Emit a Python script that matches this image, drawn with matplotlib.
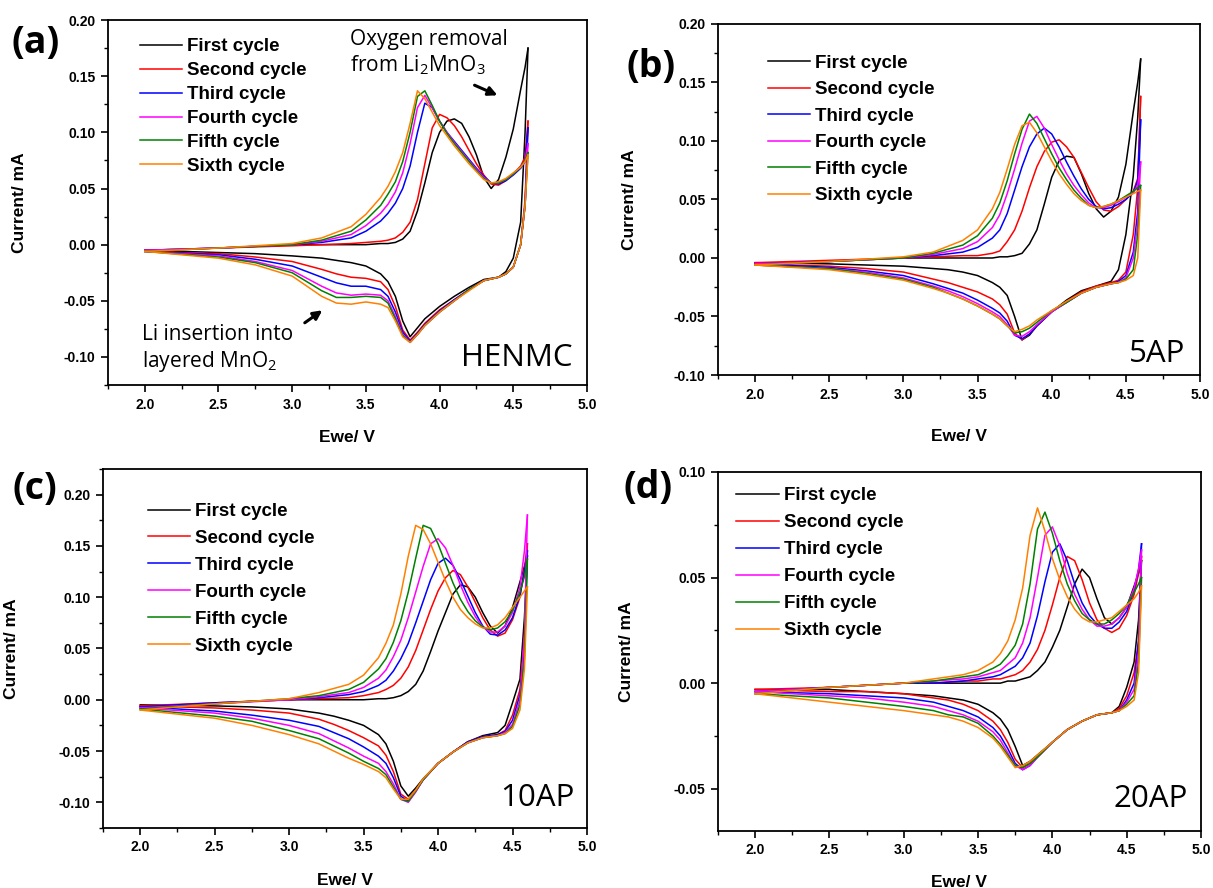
import numpy as np
import matplotlib
matplotlib.use("Agg")
import matplotlib.pyplot as plt
from matplotlib.ticker import MultipleLocator, FormatStrFormatter

plt.rcParams["font.family"] = ["Liberation Sans", "DejaVu Sans"]
plt.rcParams["mathtext.fontset"] = "custom"
plt.rcParams["mathtext.rm"] = "Open Sans"

nan = np.nan

# -----------------------------
# Data
# -----------------------------

labels = ["First cycle", "Second cycle", "Third cycle",
          "Fourth cycle", "Fifth cycle", "Sixth cycle"]
colors = ["#000000", "#ff0000", "#0000ff", "#ff00ff", "#008000", "#ff8000"]

# anodic (forward) scan voltages, V
v_up = [2.0, 2.5, 3.0, 3.2, 3.4, 3.5, 3.6, 3.65, 3.7, 3.75, 3.8, 3.85, 3.9, 3.95,
        4.0, 4.05, 4.1, 4.15, 4.2, 4.25, 4.3, 4.35, 4.4, 4.45, 4.5, 4.55, 4.58, 4.6]
# cathodic (reverse) scan voltages, V
v_dn = [4.6, 4.58, 4.55, 4.5, 4.45, 4.4, 4.3, 4.2, 4.1, 4.0, 3.9, 3.85, 3.8, 3.75,
        3.7, 3.65, 3.6, 3.5, 3.4, 3.3, 3.2, 3.0, 2.75, 2.5, 2.0]

# (a) HENMC, current in mA
henmc_up = [
    [nan, nan, 0.000, 0.000, 0.000, 0.000, 0.001, 0.001, 0.002, 0.005, 0.012, 0.030, 0.055, 0.082,
     0.100, 0.110, 0.112, 0.108, 0.096, 0.080, 0.060, 0.050, 0.058, 0.078, 0.103, 0.138, 0.158, 0.175],
    [-0.005, -0.003, -0.001, 0.000, 0.001, 0.002, 0.003, 0.004, 0.006, 0.011, 0.020, 0.040, 0.072, 0.104,
     0.116, 0.113, 0.106, 0.096, 0.084, 0.072, 0.062, 0.054, 0.053, 0.057, 0.063, 0.070, 0.078, 0.110],
    [-0.005, -0.003, 0.000, 0.002, 0.006, 0.012, 0.021, 0.028, 0.037, 0.050, 0.070, 0.100, 0.126, 0.122,
     0.110, 0.100, 0.092, 0.084, 0.076, 0.068, 0.061, 0.055, 0.054, 0.057, 0.062, 0.068, 0.074, 0.104],
    [-0.005, -0.003, 0.000, 0.003, 0.009, 0.017, 0.028, 0.036, 0.047, 0.064, 0.090, 0.122, 0.133, 0.122,
     0.110, 0.100, 0.091, 0.083, 0.075, 0.067, 0.060, 0.055, 0.055, 0.058, 0.063, 0.069, 0.075, 0.090],
    [-0.006, -0.003, 0.000, 0.004, 0.012, 0.022, 0.035, 0.045, 0.056, 0.074, 0.100, 0.132, 0.137, 0.124,
     0.110, 0.099, 0.090, 0.082, 0.074, 0.066, 0.059, 0.055, 0.055, 0.058, 0.063, 0.069, 0.075, 0.082],
    [-0.006, -0.003, 0.001, 0.006, 0.016, 0.027, 0.042, 0.052, 0.065, 0.082, 0.108, 0.137, 0.130, 0.118,
     0.106, 0.097, 0.088, 0.080, 0.072, 0.065, 0.058, 0.055, 0.056, 0.059, 0.064, 0.069, 0.074, 0.080],
]
henmc_dn = [
    [0.175, 0.100, 0.020, -0.012, -0.024, -0.029, -0.031, -0.038, -0.046, -0.055, -0.066, -0.074, -0.082,
     -0.068, -0.046, -0.033, -0.026, -0.019, -0.016, -0.014, -0.012, -0.010, -0.008, -0.007, -0.005],
    [0.110, 0.040, 0.000, -0.020, -0.026, -0.029, -0.032, -0.040, -0.049, -0.058, -0.070, -0.078, -0.085,
     -0.076, -0.055, -0.040, -0.033, -0.030, -0.029, -0.026, -0.022, -0.015, -0.011, -0.008, -0.006],
    [0.104, 0.035, 0.000, -0.020, -0.026, -0.029, -0.032, -0.040, -0.049, -0.059, -0.071, -0.079, -0.086,
     -0.078, -0.060, -0.046, -0.040, -0.037, -0.037, -0.034, -0.029, -0.019, -0.013, -0.009, -0.006],
    [0.090, 0.035, 0.000, -0.020, -0.026, -0.029, -0.032, -0.040, -0.050, -0.060, -0.072, -0.080, -0.087,
     -0.080, -0.064, -0.050, -0.045, -0.044, -0.045, -0.043, -0.037, -0.023, -0.015, -0.010, -0.006],
    [0.082, 0.035, 0.000, -0.020, -0.026, -0.029, -0.032, -0.040, -0.050, -0.060, -0.072, -0.080, -0.087,
     -0.081, -0.066, -0.052, -0.047, -0.046, -0.047, -0.047, -0.041, -0.025, -0.016, -0.011, -0.006],
    [0.080, 0.035, 0.000, -0.020, -0.026, -0.029, -0.032, -0.041, -0.050, -0.060, -0.072, -0.080, -0.087,
     -0.082, -0.068, -0.056, -0.053, -0.051, -0.053, -0.052, -0.046, -0.028, -0.018, -0.012, -0.006],
]

# (b) 5AP
ap5_up = [
    [nan, nan, 0.000, 0.000, 0.000, 0.000, 0.000, 0.001, 0.001, 0.002, 0.004, 0.012, 0.024, 0.046,
     0.069, 0.083, 0.087, 0.086, 0.072, 0.055, 0.042, 0.035, 0.040, 0.052, 0.080, 0.125, 0.150, 0.170],
    [-0.004, -0.002, 0.000, 0.001, 0.002, 0.002, 0.004, 0.006, 0.014, 0.024, 0.040, 0.060, 0.078, 0.091,
     0.099, 0.101, 0.095, 0.086, 0.073, 0.060, 0.048, 0.041, 0.040, 0.044, 0.050, 0.057, 0.068, 0.138],
    [-0.005, -0.003, 0.000, 0.002, 0.005, 0.009, 0.017, 0.024, 0.038, 0.058, 0.078, 0.095, 0.106, 0.111,
     0.106, 0.095, 0.082, 0.070, 0.059, 0.050, 0.044, 0.042, 0.043, 0.046, 0.050, 0.056, 0.066, 0.118],
    [-0.005, -0.003, 0.000, 0.003, 0.008, 0.014, 0.026, 0.037, 0.055, 0.076, 0.098, 0.117, 0.121, 0.111,
     0.097, 0.084, 0.072, 0.062, 0.054, 0.047, 0.043, 0.043, 0.045, 0.048, 0.052, 0.056, 0.062, 0.082],
    [-0.006, -0.003, 0.000, 0.004, 0.011, 0.019, 0.034, 0.047, 0.066, 0.089, 0.110, 0.123, 0.115, 0.102,
     0.089, 0.077, 0.067, 0.058, 0.051, 0.045, 0.043, 0.044, 0.046, 0.049, 0.053, 0.057, 0.060, 0.062],
    [-0.006, -0.003, 0.001, 0.005, 0.015, 0.024, 0.042, 0.056, 0.076, 0.097, 0.113, 0.116, 0.107, 0.095,
     0.083, 0.072, 0.063, 0.055, 0.049, 0.045, 0.043, 0.044, 0.046, 0.049, 0.052, 0.055, 0.057, 0.058],
]
ap5_dn = [
    [0.170, 0.120, 0.070, 0.020, -0.010, -0.020, -0.024, -0.028, -0.036, -0.046, -0.058, -0.066, -0.070,
     -0.050, -0.032, -0.025, -0.021, -0.015, -0.012, -0.010, -0.009, -0.007, -0.006, -0.005, -0.004],
    [0.138, 0.060, 0.020, -0.012, -0.019, -0.021, -0.024, -0.029, -0.037, -0.046, -0.058, -0.065, -0.070,
     -0.064, -0.048, -0.040, -0.035, -0.029, -0.025, -0.021, -0.018, -0.012, -0.009, -0.007, -0.005],
    [0.118, 0.040, 0.005, -0.015, -0.020, -0.022, -0.025, -0.030, -0.038, -0.046, -0.058, -0.065, -0.069,
     -0.066, -0.054, -0.047, -0.043, -0.036, -0.030, -0.026, -0.022, -0.015, -0.011, -0.008, -0.005],
    [0.082, 0.030, 0.000, -0.017, -0.021, -0.022, -0.025, -0.030, -0.038, -0.046, -0.057, -0.063, -0.067,
     -0.066, -0.057, -0.050, -0.046, -0.039, -0.033, -0.028, -0.024, -0.017, -0.012, -0.009, -0.006],
    [0.062, 0.020, -0.010, -0.018, -0.021, -0.022, -0.025, -0.030, -0.038, -0.045, -0.055, -0.060, -0.063,
     -0.064, -0.058, -0.052, -0.048, -0.041, -0.035, -0.030, -0.025, -0.018, -0.013, -0.009, -0.006],
    [0.058, 0.000, -0.015, -0.019, -0.021, -0.022, -0.025, -0.030, -0.037, -0.045, -0.053, -0.058, -0.061,
     -0.063, -0.058, -0.052, -0.048, -0.041, -0.035, -0.030, -0.026, -0.019, -0.014, -0.010, -0.006],
]

# (c) 10AP
ap10_up = [
    [nan, nan, 0.000, 0.000, 0.000, 0.000, 0.001, 0.001, 0.002, 0.004, 0.008, 0.015, 0.028, 0.047,
     0.067, 0.085, 0.103, 0.112, 0.110, 0.100, 0.085, 0.072, 0.065, 0.072, 0.090, 0.115, 0.130, 0.140],
    [-0.006, -0.003, 0.000, 0.001, 0.002, 0.004, 0.007, 0.010, 0.014, 0.021, 0.032, 0.048, 0.068, 0.088,
     0.106, 0.119, 0.126, 0.122, 0.110, 0.095, 0.080, 0.068, 0.062, 0.065, 0.078, 0.100, 0.128, 0.152],
    [-0.007, -0.003, 0.000, 0.002, 0.005, 0.008, 0.014, 0.019, 0.028, 0.040, 0.055, 0.075, 0.096, 0.117,
     0.133, 0.138, 0.131, 0.117, 0.101, 0.085, 0.072, 0.064, 0.063, 0.068, 0.080, 0.102, 0.125, 0.145],
    [-0.008, -0.004, 0.000, 0.003, 0.007, 0.012, 0.021, 0.029, 0.042, 0.058, 0.080, 0.105, 0.130, 0.152,
     0.157, 0.148, 0.131, 0.112, 0.095, 0.081, 0.071, 0.066, 0.066, 0.072, 0.085, 0.110, 0.145, 0.180],
    [-0.009, -0.004, 0.001, 0.004, 0.010, 0.017, 0.030, 0.040, 0.056, 0.077, 0.105, 0.138, 0.170, 0.167,
     0.152, 0.133, 0.114, 0.098, 0.086, 0.077, 0.071, 0.068, 0.070, 0.076, 0.087, 0.105, 0.120, 0.137],
    [-0.010, -0.004, 0.001, 0.007, 0.015, 0.024, 0.041, 0.055, 0.073, 0.103, 0.140, 0.170, 0.166, 0.152,
     0.134, 0.116, 0.100, 0.088, 0.080, 0.074, 0.070, 0.070, 0.073, 0.080, 0.090, 0.100, 0.106, 0.110],
]
ap10_dn = [
    [0.140, 0.080, 0.020, -0.003, -0.025, -0.032, -0.035, -0.041, -0.051, -0.062, -0.077, -0.086, -0.094,
     -0.084, -0.060, -0.043, -0.034, -0.025, -0.020, -0.016, -0.013, -0.009, -0.007, -0.006, -0.005],
    [0.152, 0.060, 0.010, -0.015, -0.030, -0.034, -0.036, -0.041, -0.051, -0.062, -0.078, -0.088, -0.097,
     -0.092, -0.070, -0.054, -0.045, -0.037, -0.030, -0.024, -0.019, -0.013, -0.010, -0.008, -0.006],
    [0.145, 0.050, 0.005, -0.020, -0.031, -0.034, -0.036, -0.041, -0.051, -0.062, -0.078, -0.089, -0.099,
     -0.094, -0.076, -0.062, -0.055, -0.046, -0.038, -0.032, -0.026, -0.020, -0.015, -0.011, -0.007],
    [0.180, 0.060, 0.000, -0.024, -0.032, -0.035, -0.037, -0.042, -0.051, -0.062, -0.078, -0.090, -0.100,
     -0.097, -0.082, -0.070, -0.062, -0.055, -0.047, -0.040, -0.033, -0.025, -0.018, -0.013, -0.008],
    [0.137, 0.040, -0.005, -0.026, -0.033, -0.035, -0.037, -0.042, -0.051, -0.062, -0.078, -0.089, -0.099,
     -0.097, -0.085, -0.073, -0.067, -0.060, -0.052, -0.045, -0.038, -0.030, -0.021, -0.016, -0.009],
    [0.110, 0.030, -0.010, -0.028, -0.033, -0.035, -0.037, -0.042, -0.051, -0.062, -0.077, -0.088, -0.097,
     -0.097, -0.087, -0.076, -0.070, -0.063, -0.057, -0.050, -0.043, -0.034, -0.025, -0.018, -0.010],
]

# (d) 20AP
ap20_up = [
    [nan, nan, 0.000, 0.000, 0.000, 0.000, 0.000, 0.000, 0.001, 0.001, 0.002, 0.003, 0.006, 0.010,
     0.017, 0.025, 0.036, 0.047, 0.054, 0.050, 0.040, 0.031, 0.028, 0.031, 0.036, 0.046, 0.052, 0.058],
    [-0.003, -0.002, 0.000, 0.000, 0.001, 0.001, 0.002, 0.002, 0.003, 0.004, 0.006, 0.010, 0.016, 0.025,
     0.037, 0.050, 0.060, 0.058, 0.049, 0.038, 0.030, 0.026, 0.024, 0.026, 0.032, 0.042, 0.052, 0.060],
    [-0.004, -0.002, 0.000, 0.000, 0.001, 0.002, 0.003, 0.004, 0.006, 0.008, 0.012, 0.019, 0.032, 0.048,
     0.062, 0.066, 0.058, 0.047, 0.038, 0.032, 0.028, 0.026, 0.026, 0.029, 0.034, 0.044, 0.054, 0.066],
    [-0.004, -0.002, 0.000, 0.001, 0.002, 0.003, 0.005, 0.006, 0.009, 0.012, 0.019, 0.031, 0.050, 0.070,
     0.074, 0.065, 0.052, 0.042, 0.035, 0.030, 0.027, 0.027, 0.028, 0.031, 0.036, 0.045, 0.054, 0.063],
    [-0.005, -0.002, 0.000, 0.001, 0.003, 0.004, 0.007, 0.009, 0.013, 0.018, 0.028, 0.047, 0.073, 0.081,
     0.071, 0.058, 0.047, 0.039, 0.033, 0.030, 0.028, 0.028, 0.030, 0.033, 0.037, 0.043, 0.047, 0.050],
    [-0.005, -0.002, 0.000, 0.002, 0.004, 0.006, 0.010, 0.014, 0.020, 0.030, 0.045, 0.070, 0.083, 0.072,
     0.059, 0.049, 0.041, 0.035, 0.031, 0.029, 0.029, 0.030, 0.031, 0.034, 0.037, 0.040, 0.043, 0.046],
]
ap20_dn = [
    [0.058, 0.030, 0.010, -0.002, -0.011, -0.014, -0.015, -0.018, -0.022, -0.028, -0.034, -0.037, -0.039,
     -0.030, -0.022, -0.017, -0.014, -0.010, -0.008, -0.007, -0.006, -0.005, -0.004, -0.003, -0.003],
    [0.060, 0.020, 0.005, -0.006, -0.012, -0.014, -0.015, -0.018, -0.022, -0.028, -0.035, -0.038, -0.040,
     -0.036, -0.028, -0.022, -0.018, -0.013, -0.010, -0.008, -0.007, -0.005, -0.004, -0.004, -0.003],
    [0.066, 0.020, 0.000, -0.008, -0.013, -0.014, -0.015, -0.018, -0.022, -0.028, -0.035, -0.039, -0.041,
     -0.038, -0.031, -0.025, -0.021, -0.016, -0.013, -0.011, -0.009, -0.007, -0.006, -0.005, -0.004],
    [0.063, 0.015, -0.003, -0.009, -0.013, -0.014, -0.015, -0.018, -0.022, -0.028, -0.035, -0.039, -0.041,
     -0.039, -0.033, -0.027, -0.023, -0.018, -0.015, -0.013, -0.011, -0.009, -0.007, -0.006, -0.004],
    [0.050, 0.010, -0.006, -0.010, -0.013, -0.014, -0.015, -0.018, -0.022, -0.028, -0.035, -0.038, -0.040,
     -0.039, -0.034, -0.029, -0.025, -0.019, -0.016, -0.015, -0.013, -0.011, -0.009, -0.007, -0.005],
    [0.046, 0.005, -0.008, -0.011, -0.013, -0.014, -0.015, -0.018, -0.022, -0.028, -0.034, -0.037, -0.039,
     -0.040, -0.035, -0.030, -0.026, -0.021, -0.018, -0.016, -0.015, -0.013, -0.011, -0.009, -0.005],
]

# -----------------------------
# Figure layout
# -----------------------------

fig = plt.figure(figsize=(12.13, 8.88), dpi=100)

panels = [
    # tag, sample, up, dn, axes rect, ylim, legend anchor, legend spacing,
    # tag position, sample text position, x/y label offsets
    ("(a)", "HENMC", henmc_up, henmc_dn, [0.0890, 0.5664, 0.3949, 0.4110],
     (-0.125, 0.20), (0.067, 0.950), 0.36, (0.029, 0.952), (4.90, -0.101), (-0.123, -0.168)),
    ("(b)", "5AP", ap5_up, ap5_dn, [0.5919, 0.5777, 0.3974, 0.3953],
     (-0.10, 0.20), (0.103, 0.912), 0.50, (0.537, 0.925), (4.90, -0.082), (-0.155, -0.168)),
    ("(c)", "10AP", ap10_up, ap10_dn, [0.0849, 0.0676, 0.3990, 0.4043],
     (-0.125, 0.225), (0.093, 0.905), 0.52, (0.029, 0.449), (4.92, -0.096), (-0.125, -0.174)),
    ("(d)", "20AP", ap20_up, ap20_dn, [0.5919, 0.0642, 0.3982, 0.4043],
     (-0.07, 0.10), (0.038, 0.958), 0.53, (0.534, 0.451), (4.91, -0.055), (-0.122, -0.174)),
]

for (tag, sample, up, dn, rect, ylim, leg_xy, leg_sp, tag_xy,
     samp_xy, lab_off) in panels:
    ax = fig.add_axes(rect)

    for k in range(6):
        ax.plot(v_up, up[k], color=colors[k], lw=1.1, label=labels[k],
                solid_joinstyle="round")
        ax.plot(v_dn, dn[k], color=colors[k], lw=1.1, solid_joinstyle="round")

    ax.set_xlim(1.75, 5.0)
    ax.set_ylim(*ylim)
    ax.set_xticks(np.arange(2.0, 5.01, 0.5))
    ax.xaxis.set_minor_locator(MultipleLocator(0.25))
    ax.yaxis.set_major_locator(MultipleLocator(0.05))
    ax.yaxis.set_minor_locator(MultipleLocator(0.025))
    ax.xaxis.set_major_formatter(FormatStrFormatter("%.1f"))
    ax.yaxis.set_major_formatter(FormatStrFormatter("%.2f"))

    ax.tick_params(which="major", direction="out", length=5, width=1.2,
                   labelsize=10, pad=4, top=False, right=False)
    ax.tick_params(which="minor", direction="out", length=3, width=1.0,
                   top=False, right=False)
    for lbl in ax.get_xticklabels() + ax.get_yticklabels():
        lbl.set_fontweight("bold")
    for sp in ax.spines.values():
        sp.set_linewidth(1.3)

    ax.set_xlabel("Ewe/ V", fontsize=12.5, fontweight="bold")
    ax.set_ylabel("Current/ mA", fontsize=12.5, fontweight="bold")
    ax.xaxis.set_label_coords(0.5, lab_off[0])
    ax.yaxis.set_label_coords(lab_off[1], 0.5)

    ax.legend(loc="upper left", bbox_to_anchor=leg_xy, frameon=False,
              prop={"family": "Liberation Sans", "weight": "bold", "size": 13.5},
              handlelength=2.25, handletextpad=0.27, labelspacing=leg_sp,
              borderpad=0, borderaxespad=0)

    ax.text(samp_xy[0], samp_xy[1], sample, ha="right", va="center",
            fontsize=22.5, family="Open Sans")

    fig.text(tag_xy[0], tag_xy[1], tag, ha="center", va="center",
             fontsize=27, fontweight="bold", family="Open Sans")

    if tag == "(a)":
        ax.text(3.39, 0.171, "Oxygen removal\nfrom Li$_\\mathregular{2}$MnO$_\\mathregular{3}$",
                ha="left", va="center", fontsize=15, family="Open Sans",
                linespacing=1.2)
        ax.annotate("", xy=(4.41, 0.132), xytext=(4.22, 0.143),
                    arrowprops=dict(arrowstyle="-|>", color="black", lw=2.2,
                                    mutation_scale=13))
        ax.text(1.98, -0.093, "Li insertion into\nlayered MnO$_\\mathregular{2}$",
                ha="left", va="center", fontsize=15, family="Open Sans",
                linespacing=1.2)
        ax.annotate("", xy=(3.22, -0.057), xytext=(3.07, -0.071),
                    arrowprops=dict(arrowstyle="-|>", color="black", lw=2.2,
                                    mutation_scale=13))

fig.savefig("out.png", dpi=100, facecolor="white")
plt.close(fig)
